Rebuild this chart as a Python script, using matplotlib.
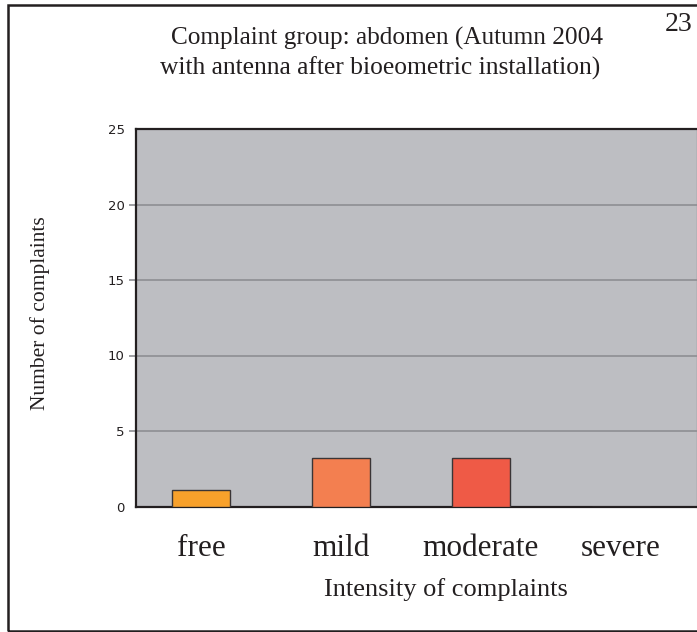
import matplotlib.pyplot as plt
import matplotlib.patches as patches

# data
categories = ["free", "mild", "moderate", "severe"]
complaints = [1.1, 3.2, 3.2, 0]
bar_colors = ["#F8A12B", "#F37F50", "#EF5A46", "#EF5A46"]
y_ticks = [0, 5, 10, 15, 20, 25]

plt.rcParams["font.family"] = ["Liberation Serif", "DejaVu Serif"]

fig = plt.figure(figsize=(6.97, 6.32), dpi=100)
ax = fig.add_axes([136 / 697, 1 - 506.5 / 632, 561 / 697, (506.5 - 129) / 632])
ax.set_facecolor("#BDBEC2")

x = list(range(len(categories)))
ax.bar(x, complaints, width=0.42, color=bar_colors, edgecolor="#3A3536",
       linewidth=1.0, zorder=3)

ax.set_xlim(-0.464, 3.543)
ax.set_ylim(0, 25)
ax.set_yticks(y_ticks)
ax.set_yticklabels([str(t) for t in y_ticks], family="DejaVu Sans",
                   fontsize=9.5, color="#231F20")
ax.set_xticks(x)
ax.set_xticklabels(categories, fontsize=22.5, color="#231F20")
ax.tick_params(axis="x", length=0, pad=20)
ax.tick_params(axis="y", length=5, color="#8E8F92", width=1.2, pad=3)
ticks = ax.yaxis.get_major_ticks()
ticks[0].tick1line.set_visible(False)
ticks[-1].tick1line.set_visible(False)

ax.grid(axis="y", color="#8E8F92", linewidth=1.2, zorder=1)
ax.set_axisbelow(True)

for side in ["left", "bottom", "top"]:
    ax.spines[side].set_color("#231F20")
    ax.spines[side].set_linewidth(1.6)
ax.spines["right"].set_color("#8E8F92")
ax.spines["right"].set_linewidth(1.0)

# titles and labels
fig.text(387 / 697, 1 - 45 / 632, "Complaint group: abdomen (Autumn 2004",
         ha="center", va="baseline", fontsize=18.2, color="#231F20")
fig.text(380 / 697, 1 - 75 / 632, "with antenna after bioeometric installation)",
         ha="center", va="baseline", fontsize=18.4, color="#231F20")
fig.text(693 / 697, 1 - 31 / 632, "23", ha="right", va="baseline",
         fontsize=20, color="#231F20")
fig.text(446 / 697, 1 - 596 / 632, "Intensity of complaints", ha="center",
         va="baseline", fontsize=19, color="#231F20")
fig.text(40 / 697, 1 - 313 / 632, "Number of complaints", ha="center",
         va="center", rotation=90, fontsize=15.5, color="#231F20")

# page frame
frame = patches.Rectangle((7.5 / 697, 1 - 631 / 632), 1.0, (631 - 5) / 632,
                          transform=fig.transFigure, fill=False,
                          edgecolor="#231F20", linewidth=1.8, clip_on=False)
fig.patches.append(frame)

fig.savefig("out.png", dpi=100)
